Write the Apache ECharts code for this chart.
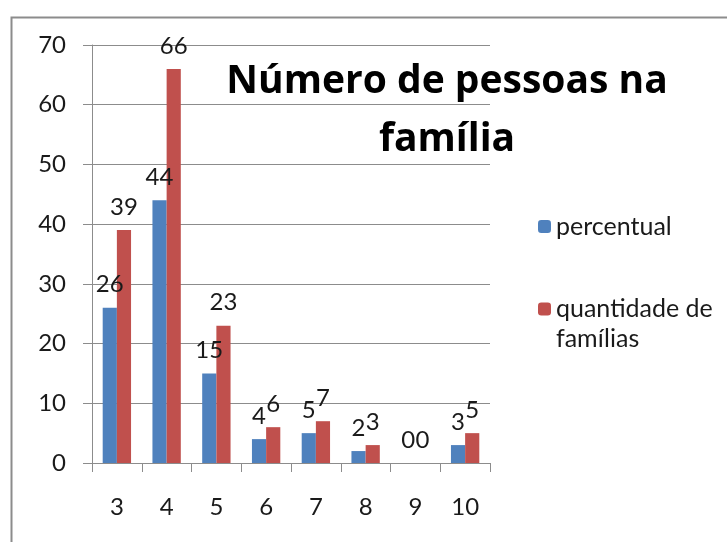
<!DOCTYPE html>
<html>
<head>
<meta charset="utf-8">
<script src="https://cdn.jsdelivr.net/npm/echarts@6/dist/echarts.min.js"></script>
<style>
html,body{margin:0;padding:0;background:#fff;}
#chart{width:727px;height:542px;}
</style>
</head>
<body>
<div id="chart"></div>
<script>
const categories = ['3','4','5','6','7','8','9','10'];
const percentual = [26, 44, 15, 4, 5, 2, 0, 3];
const quantidade = [39, 66, 23, 6, 7, 3, 0, 5];
const seriesNames = ['percentual', 'quantidade de famílias'];
const titleText = 'Número de pessoas na\nfamília';

const FONT = 'Lato';
const chart = echarts.init(document.getElementById('chart'), null, {renderer: 'canvas'});
const labelCfg = {
  show: true, position: 'top', distance: 11,
  color: '#1a1a1a', fontFamily: FONT, fontSize: 24
};
chart.setOption({
  backgroundColor: '#fff',
  animation: false,
  graphic: [{
    type: 'rect', left: 9, top: 15, z: -10,
    shape: {width: 800, height: 600},
    style: {fill: 'none', stroke: '#8c8c8c', lineWidth: 2}
  }],
  title: {
    text: titleText,
    left: 442, top: 48, textAlign: 'center',
    textStyle: {fontFamily: 'Open Sans', fontWeight: 'bold', fontSize: 39, lineHeight: 58, color: '#000'}
  },
  legend: [{
    data: [seriesNames[0]],
    orient: 'vertical', left: 533, top: 209,
    itemWidth: 13, itemHeight: 13,
    textStyle: {fontFamily: FONT, fontSize: 25, color: '#1a1a1a'}
  }, {
    data: [seriesNames[1]],
    orient: 'vertical', left: 533, top: 259,
    itemWidth: 13, itemHeight: 13,
    formatter: function(n){ return '\nquantidade de\nfamílias'; },
    textStyle: {fontFamily: FONT, fontSize: 25, lineHeight: 30, color: '#1a1a1a'}
  }],
  grid: {left: 92, right: 237, top: 45, bottom: 79, containLabel: false},
  xAxis: {
    type: 'category', data: categories,
    axisLine: {lineStyle: {color: '#8c8c8c', width: 1}},
    axisTick: {show: true, length: 9, lineStyle: {color: '#8c8c8c'}},
    axisLabel: {margin: 32, fontFamily: FONT, fontSize: 24, color: '#1a1a1a'}
  },
  yAxis: {
    type: 'value', min: 0, max: 70, interval: 10,
    axisLine: {show: true, lineStyle: {color: '#8c8c8c', width: 1}},
    axisTick: {show: true, length: 9, lineStyle: {color: '#8c8c8c'}},
    splitLine: {show: true, lineStyle: {color: '#8c8c8c', width: 1}},
    axisLabel: {margin: 26, fontFamily: FONT, fontSize: 24, color: '#1a1a1a'}
  },
  series: [{
    name: seriesNames[0], type: 'bar', data: percentual,
    itemStyle: {color: '#4F81BD'},
    barGap: '0%', barCategoryGap: '43%',
    label: labelCfg
  }, {
    name: seriesNames[1], type: 'bar', data: quantidade,
    itemStyle: {color: '#C0504D'},
    barGap: '0%', barCategoryGap: '43%',
    label: labelCfg
  }]
});
</script>
</body>
</html>
